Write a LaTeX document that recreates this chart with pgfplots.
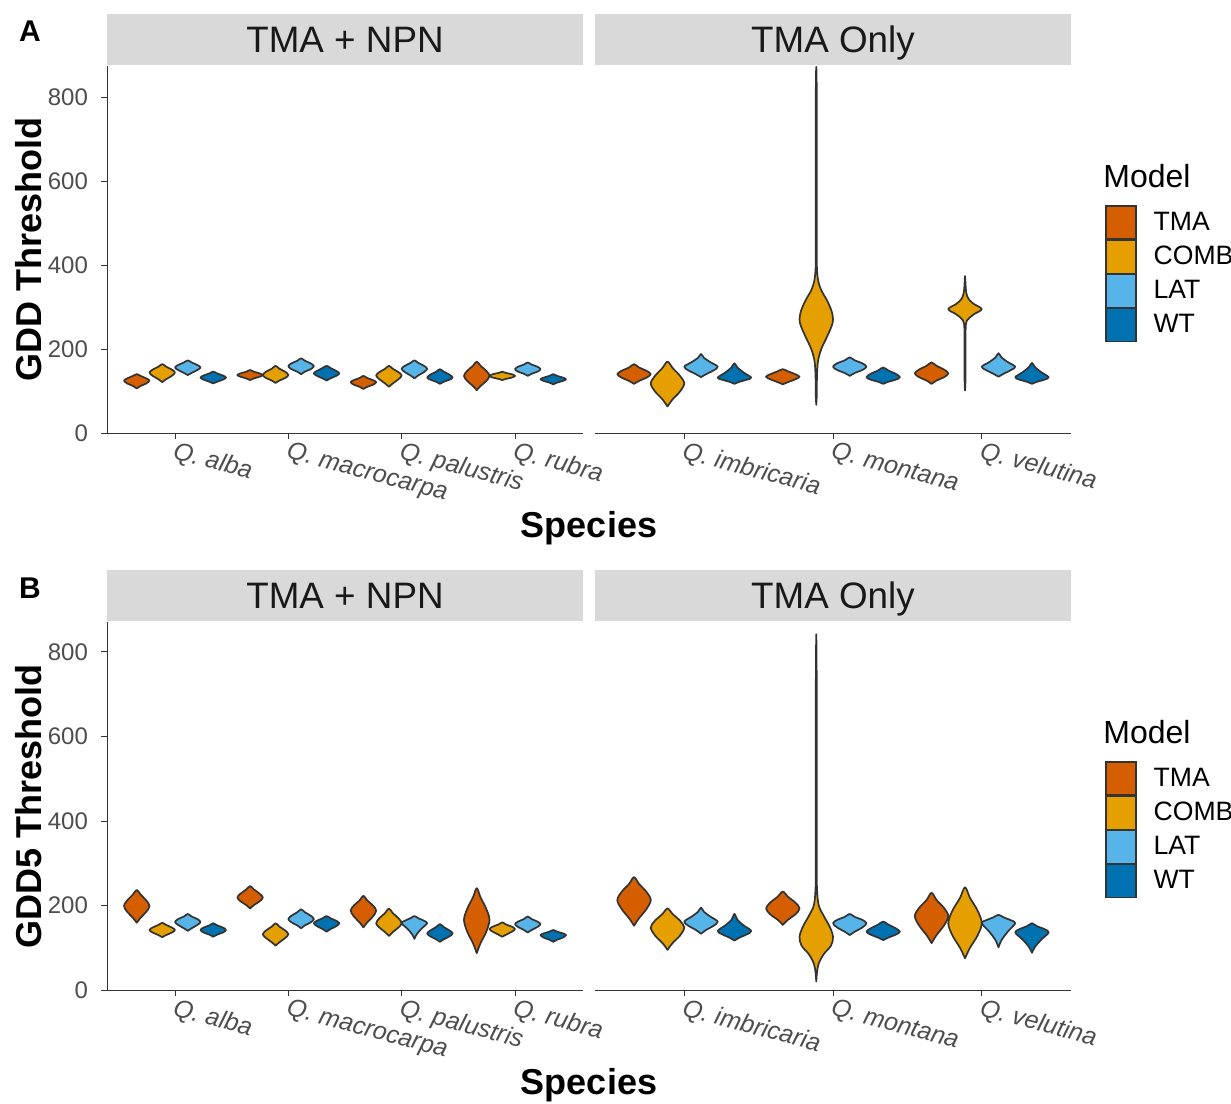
\documentclass[border=0pt]{standalone}
\usepackage{fontspec}
\setmainfont{Liberation Sans}
\usepackage{pgfplots}
\pgfplotsset{compat=1.18}

\definecolor{cTMA}{HTML}{D55E00}
\definecolor{cCOMB}{HTML}{E69F00}
\definecolor{cLAT}{HTML}{56B4E9}
\definecolor{cWT}{HTML}{0072B2}
\definecolor{grey20}{HTML}{333333}
\definecolor{grey30}{HTML}{4D4D4D}
\definecolor{grey85}{HTML}{D9D9D9}

% one violin: colour, centre, bottom tip, top tip, {y/relative half width, ...}
\newcommand\vio[5]{%
  \pgfmathsetmacro\vc{#2}%
  \gdef\vioR{}\gdef\vioLft{}%
  \foreach \yy/\ww in {#5}{%
    \pgfmathsetmacro\xr{\vc+0.1125*\ww}%
    \pgfmathsetmacro\xl{\vc-0.1125*\ww}%
    \xdef\vioR{\vioR(\xr,\yy) }%
    \xdef\vioLft{(\xl,\yy) \vioLft}%
  }%
  \edef\vtmp{\noexpand\addplot[vio,fill=#1] coordinates {(\vc,#3) \vioR(\vc,#4) \vioLft(\vc,#3)};}%
  \vtmp
}
\newcommand\vT[4]{\vio{cTMA}{#1-0.3375}{#2}{#3}{#4}}
\newcommand\vC[4]{\vio{cCOMB}{#1-0.1125}{#2}{#3}{#4}}
\newcommand\vL[4]{\vio{cLAT}{#1+0.1125}{#2}{#3}{#4}}
\newcommand\vW[4]{\vio{cWT}{#1+0.3375}{#2}{#3}{#4}}

\pgfplotsset{
  vio/.style={smooth, tension=0.55, draw=grey20, line width=0.85pt, line join=round, line cap=round, mark=none},
  panel/.style={scale only axis, width=238pt, ymin=0, xmin=0.4,
    axis x line*=bottom,
    axis line style={draw=grey20, line width=0.5pt, -},
    tick style={draw=grey20, line width=0.5pt},
    tick align=outside, major tick length=3pt,
    ytick={0,200,400,600,800},
    /pgf/number format/assume math mode=true,
    tick label style={text=grey30},
    yticklabel style={font=\fontsize{12}{14}\selectfont, xshift=-3pt},
    xticklabel style={font=\fontsize{12.5}{14}\selectfont\itshape, rotate=-15, anchor=north west, xshift=-2.5pt, yshift=3pt},
    every axis title/.style={at={(0.5,1)}, anchor=south, yshift=0.5pt, fill=grey85,
      minimum width=238pt, minimum height=25.5pt, inner sep=0pt,
      text height=13.2pt, text depth=0pt,
      font=\fontsize{18.4}{20}\selectfont, text=black!90},
  },
  leftpanel/.style={panel, axis y line*=left, xmax=4.6, xtick={1,2,3,4},
    xticklabels={Q. alba, Q. macrocarpa, Q. palustris, Q. rubra}, title={TMA + NPN}},
  rightpanel/.style={panel, axis y line=none, xmax=3.6, xtick={1,2,3},
    xticklabels={Q. imbricaria, Q. montana, Q. velutina}, title={TMA Only},
    legend style={at={(1,1)}, anchor=north west, xshift=17pt, yshift=-69.5pt, draw=none, fill=none,
      font=\fontsize{13.3}{15}\selectfont, column sep=8.5pt, row sep=0pt, inner sep=0pt,
      nodes={inner sep=0pt}},
    legend cell align=left,
    legend image code/.code={\draw[##1] (0pt,-8.25pt) rectangle (15pt,8.25pt);},
  },
}
\newcommand\modellegend{%
  \addlegendimage{fill=cTMA, draw=grey20, line width=0.6pt}\addlegendentry{TMA}
  \addlegendimage{fill=cCOMB, draw=grey20, line width=0.6pt}\addlegendentry{COMB}
  \addlegendimage{fill=cLAT, draw=grey20, line width=0.6pt}\addlegendentry{LAT}
  \addlegendimage{fill=cWT, draw=grey20, line width=0.6pt}\addlegendentry{WT}
}

\begin{document}
\begin{tikzpicture}
\useasboundingbox (0,0) rectangle (615.5pt,-551.5pt);

% ---------------- A: GDD ----------------
\begin{axis}[leftpanel, at={(53.5pt,-216.5pt)}, anchor=south west, height=183.5pt, ymax=874]
\vT{1}{106}{140}{112/0.3,118/0.75,125/1,130/0.75,136/0.3}
\vC{1}{121}{164}{128/0.3,136/0.75,144/1,151/0.75,158/0.3}
\vL{1}{138}{173}{143/0.3,150/0.75,156/1,162/0.75,168/0.3}
\vW{1}{118}{146}{122/0.3,127/0.75,132/1,137/0.75,142/0.3}
\vT{2}{126}{150}{130/0.3,134/0.75,138/1,142/0.75,146/0.3}
\vC{2}{119}{160}{125/0.3,131/0.75,138/1,146/0.75,153/0.3}
\vL{2}{140}{178}{146/0.3,152/0.75,159/1,166/0.75,172/0.3}
\vW{2}{125}{160}{130/0.3,136/0.75,142/1,148/0.75,155/0.3}
\vT{3}{105}{136}{110/0.3,115/0.75,121/1,126/0.75,131/0.3}
\vC{3}{110}{160}{118/0.3,128/0.75,137/1,145/0.75,153/0.3}
\vL{3}{130}{173}{137/0.3,145/0.75,153/1,160/0.75,167/0.3}
\vW{3}{117}{152}{122/0.3,127/0.75,132/1,139/0.75,146/0.3}
\vT{4}{102}{170}{112/0.3,124/0.75,136/1,148/0.75,160/0.3}
\vC{4}{126}{146}{129/0.3,132/0.75,136/1,140/0.75,143/0.3}
\vL{4}{136}{168}{141/0.3,146/0.75,152/1,158/0.75,163/0.3}
\vW{4}{116}{140}{120/0.3,124/0.75,128/1,132/0.75,136/0.3}
\end{axis}

\begin{axis}[rightpanel, at={(297.5pt,-216.5pt)}, anchor=south west, height=183.5pt, ymax=874]
\modellegend
\vT{1}{117}{164}{124/0.3,132/0.75,140/1,148/0.75,156/0.3}
\vC{1}{63}{170}{80/0.3,99/0.75,118/1,136/0.75,155/0.3}
\vL{1}{133}{188}{140/0.3,149/0.75,158/1,169/0.55,179/0.18}
\vW{1}{117}{166}{122/0.3,127/0.75,132/1,144/0.55,156/0.18}
\vT{2}{116}{152}{121/0.3,128/0.75,134/1,140/0.75,147/0.3}
\vC{2}{67}{872}{90/0.03,130/0.04,170/0.1,200/0.3,230/0.65,255/0.92,270/1,290/0.92,315/0.65,340/0.3,360/0.13,385/0.05,420/0.035,600/0.035,800/0.03}
\vL{2}{136}{180}{143/0.3,150/0.75,158/1,166/0.75,173/0.3}
\vW{2}{117}{156}{122/0.3,127/0.75,133/1,141/0.75,149/0.3}
\vT{3}{117}{168}{125/0.3,133/0.75,142/1,151/0.75,160/0.3}
\vC{3}{101}{374}{130/0.03,200/0.03,250/0.04,268/0.12,282/0.5,295/1,308/0.5,320/0.2,335/0.07,355/0.03}
\vL{3}{134}{190}{141/0.3,150/0.75,158/1,169/0.55,180/0.18}
\vW{3}{117}{167}{122/0.3,127/0.75,133/1,145/0.55,157/0.18}
\end{axis}

% ---------------- B: GDD5 ----------------
\begin{axis}[leftpanel, at={(53.5pt,-495pt)}, anchor=south west, height=184pt, ymax=871]
\vT{1}{159}{237}{171/0.3,185/0.75,199/1,212/0.75,226/0.3}
\vC{1}{125}{159}{130/0.3,136/0.75,142/1,148/0.75,154/0.3}
\vL{1}{140}{180}{146/0.3,154/0.75,161/1,168/0.75,174/0.3}
\vW{1}{126}{158}{131/0.3,136/0.75,142/1,148/0.75,153/0.3}
\vT{2}{193}{246}{201/0.3,210/0.75,219/1,228/0.75,238/0.3}
\vC{2}{105}{158}{113/0.3,123/0.75,132/1,141/0.75,150/0.3}
\vL{2}{146}{191}{153/0.3,160/0.75,168/1,176/0.75,184/0.3}
\vW{2}{138}{175}{144/0.3,151/0.75,158/1,164/0.75,170/0.3}
\vT{3}{148}{223}{160/0.3,174/0.75,188/1,200/0.75,212/0.3}
\vC{3}{128}{193}{137/0.3,148/0.75,158/1,170/0.75,182/0.3}
\vL{3}{121}{175}{132/0.18,145/0.55,158/1,164/0.75,170/0.3}
\vW{3}{114}{156}{120/0.3,127/0.75,134/1,141/0.75,149/0.3}
\vT{4}{87}{241}{111/0.3,138/0.75,166/1,192/0.75,219/0.3}
\vC{4}{126}{160}{131/0.3,138/0.75,144/1,150/0.75,155/0.3}
\vL{4}{136}{174}{142/0.3,149/0.75,156/1,162/0.75,168/0.3}
\vW{4}{114}{142}{119/0.3,124/0.75,130/1,134/0.75,138/0.3}
\end{axis}

\begin{axis}[rightpanel, at={(297.5pt,-495pt)}, anchor=south west, height=184pt, ymax=871]
\modellegend
\vT{1}{152}{267}{170/0.3,192/0.75,213/1,232/0.75,251/0.3}
\vC{1}{95}{193}{111/0.3,129/0.75,148/1,164/0.75,180/0.3}
\vL{1}{133}{195}{142/0.3,152/0.75,162/1,174/0.55,185/0.18}
\vW{1}{117}{180}{124/0.3,132/0.75,140/1,153/0.55,166/0.18}
\vT{2}{154}{233}{166/0.3,179/0.75,193/1,207/0.75,221/0.3}
\vC{2}{20}{842}{40/0.04,62/0.14,85/0.45,105/0.88,126/1,150/0.8,175/0.45,200/0.15,235/0.05,280/0.035,500/0.035,700/0.03}
\vL{2}{130}{180}{138/0.3,148/0.75,158/1,166/0.75,173/0.3}
\vW{2}{118}{162}{124/0.3,131/0.75,138/1,146/0.75,155/0.3}
\vT{3}{111}{230}{130/0.3,153/0.75,175/1,194/0.75,213/0.3}
\vC{3}{75}{243}{100/0.3,129/0.75,158/1,188/0.75,218/0.3}
\vL{3}{101}{178}{118/0.18,138/0.55,158/1,165/0.75,172/0.3}
\vW{3}{88}{158}{102/0.18,119/0.55,136/1,144/0.75,151/0.3}
\end{axis}

% ---------------- titles ----------------
\node[font=\fontsize{15}{18}\selectfont\bfseries] at (15pt,-15.5pt) {A};
\node[font=\fontsize{15}{18}\selectfont\bfseries] at (15pt,-294pt) {B};
\node[rotate=90, font=\fontsize{18}{20}\selectfont\bfseries] at (14.5pt,-124.75pt) {GDD Threshold};
\node[rotate=90, font=\fontsize{18}{20}\selectfont\bfseries] at (14.5pt,-403.25pt) {GDD5 Threshold};
\node[font=\fontsize{18}{20}\selectfont\bfseries] at (294.5pt,-264.25pt) {Species};
\node[font=\fontsize{18}{20}\selectfont\bfseries] at (294.5pt,-542.75pt) {Species};
\node[anchor=west, inner sep=0pt, font=\fontsize{16}{18}\selectfont] at (551.5pt,-88pt) {Model};
\node[anchor=west, inner sep=0pt, font=\fontsize{16}{18}\selectfont] at (551.5pt,-366pt) {Model};
\end{tikzpicture}
\end{document}
